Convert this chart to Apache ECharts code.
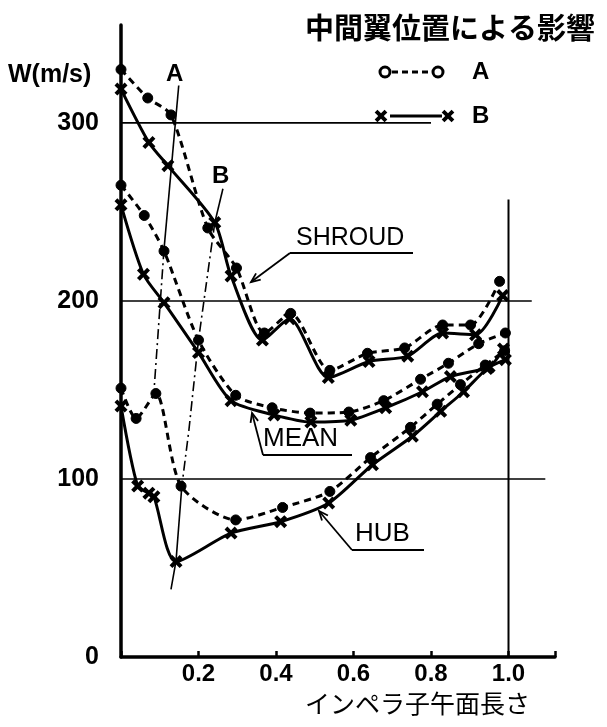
<!DOCTYPE html>
<html>
<head>
<meta charset="utf-8">
<script src="https://cdn.jsdelivr.net/npm/echarts@6/dist/echarts.min.js"></script>
<style>
  html, body { margin: 0; padding: 0; background: #fff; }
  #chart { width: 607px; height: 727px; }
</style>
</head>
<body>
<div id="chart"></div>
<script>
// Relative velocity W along the impeller meridional length,
// for two splitter-blade positions (A, B) at shroud, mean and hub.
const xTicks = [0.2, 0.4, 0.6, 0.8, 1.0];
const yTicks = [0, 100, 200, 300];

const shroudA_x = [0, 0.069, 0.129, 0.224, 0.298, 0.37, 0.438, 0.539, 0.636, 0.732, 0.83, 0.902, 0.977];
const shroudA_y = [330, 314, 304.5, 241, 218.5, 182, 193, 161, 170.6, 173.6, 186.5, 186.5, 211];
const shroudB_x = [0, 0.072, 0.121, 0.242, 0.284, 0.365, 0.435, 0.535, 0.64, 0.74, 0.83, 0.915, 0.985];
const shroudB_y = [319, 289, 276, 244, 214, 178, 190, 157, 166, 169, 182, 181, 203];

const meanA_x = [0, 0.06, 0.111, 0.2, 0.296, 0.39, 0.488, 0.588, 0.678, 0.773, 0.845, 0.923, 0.992];
const meanA_y = [265, 248, 228, 178, 147, 140, 137, 137.6, 144, 156, 165, 176, 182];
const meanB_x = [0, 0.058, 0.111, 0.2, 0.284, 0.395, 0.49, 0.593, 0.683, 0.778, 0.85, 0.95, 0.987];
const meanB_y = [254, 215, 199, 171, 144, 136, 132, 133, 140, 149, 157.5, 163, 173];

const hubA_x = [0, 0.039, 0.09, 0.155, 0.296, 0.417, 0.539, 0.644, 0.747, 0.816, 0.876, 0.94, 0.99];
const hubA_y = [151, 134, 148, 96, 77, 84, 93, 112, 129, 142, 153, 164, 172];
const hubB_x = [0, 0.043, 0.072, 0.085, 0.142, 0.284, 0.412, 0.536, 0.649, 0.752, 0.825, 0.884, 0.945, 0.992];
const hubB_y = [141, 96, 92, 90, 53.6, 69.6, 76, 86.5, 108, 124, 138, 149, 162, 167];

// Leading-edge loci of the splitter blade for positions A and B
const locusA_x = [0.149, 0.111, 0.085];
const locusA_y = [321, 229, 149];
const locusB_x = [0.263, 0.242, 0.2, 0.175, 0.157, 0.142, 0.129];
const locusB_y = [263, 244, 178, 127, 96, 54, 38];

// Reference lines: horizontal levels with their right ends, and the x = 1.0 line
const refLevels = [300, 200, 100];
const refLevelEnds = [0.8, 1.06, 1.095];
const refVertX = 1.0;
const refVertTop = 257;

const pairs = (xs, ys) => xs.map((x, i) => [x, ys[i]]);

const INK = '#000';
// Diagonal cross ("x") with thick arms
const XPTS = [[5.09, -9.05], [9.05, -5.09], [3.96, 0], [9.05, 5.09], [5.09, 9.05], [0, 3.96],
              [-5.09, 9.05], [-9.05, 5.09], [-3.96, 0], [-9.05, -5.09], [-5.09, -9.05], [0, -3.96]];
const STAR = 'path://M' + XPTS.map(p => p.join(',')).join(' L') + ' Z';
const FONT = '"Liberation Sans", Arial, sans-serif';
const CJK = '"Noto Sans CJK JP", sans-serif';

function curveA(name, xs, ys) {
  return {
    name, type: 'line', data: pairs(xs, ys), smooth: 0.25,
    symbol: 'circle', symbolSize: 10,
    itemStyle: { color: INK, borderColor: INK, borderWidth: 1 },
    lineStyle: { color: INK, width: 3, type: [7, 5] },
    z: 5, silent: true, animation: false
  };
}
function curveB(name, xs, ys) {
  return {
    name, type: 'line', data: pairs(xs, ys), smooth: 0.25,
    symbol: STAR, symbolSize: 13,
    itemStyle: { color: INK },
    lineStyle: { color: INK, width: 3, type: 'solid' },
    z: 5, silent: true, animation: false
  };
}
function thin(name, data, type, width) {
  return {
    name, type: 'line', data, symbol: 'none',
    lineStyle: { color: INK, width: width || 1.6, type: type || 'solid' },
    z: 3, silent: true, animation: false
  };
}

const locusA = pairs(locusA_x, locusA_y);
const locusB = pairs(locusB_x, locusB_y);

const series = [
  curveA('SHROUD A', shroudA_x, shroudA_y),
  curveB('SHROUD B', shroudB_x, shroudB_y),
  curveA('MEAN A', meanA_x, meanA_y),
  curveB('MEAN B', meanB_x, meanB_y),
  curveA('HUB A', hubA_x, hubA_y),
  curveB('HUB B', hubB_x, hubB_y),
  thin('locus A top', locusA.slice(0, 2)),
  thin('locus A low', locusA.slice(1), [10, 4, 2, 4]),
  thin('locus B top', locusB.slice(0, 2)),
  thin('locus B mid', locusB.slice(1, 5), [10, 4, 2, 4]),
  thin('locus B low', locusB.slice(4)),
  thin('x = 1.0', [[refVertX, 0], [refVertX, refVertTop]], 'solid', 2)
];
refLevels.forEach((lv, i) => {
  series.push(thin('level ' + lv, [[0, lv], [refLevelEnds[i], lv]], 'solid', 1.6));
});

const chart = echarts.init(document.getElementById('chart'), null, { renderer: 'canvas' });

// Arrow leader: polyline ending in an open arrowhead at the last point
function leader(points) {
  const n = points.length;
  const [x1, y1] = points[n - 2];
  const [x2, y2] = points[n - 1];
  const a = Math.atan2(y2 - y1, x2 - x1);
  const L = 10, w = 0.4;
  const h1 = [x2 - L * Math.cos(a - w), y2 - L * Math.sin(a - w)];
  const h2 = [x2 - L * Math.cos(a + w), y2 - L * Math.sin(a + w)];
  return [
    { type: 'polyline', shape: { points }, style: { stroke: INK, lineWidth: 1.8, fill: null }, z: 20 },
    { type: 'polyline', shape: { points: [h1, [x2, y2], h2] }, style: { stroke: INK, lineWidth: 1.8, fill: null }, z: 20 }
  ];
}
function label(text, x, y, size, weight) {
  return {
    type: 'text', x, y, z: 20,
    style: { text, fill: INK, font: `${weight || 'normal'} ${size}px ${FONT}`, textAlign: 'left', textVerticalAlign: 'bottom' }
  };
}
// Legend marker: the same "x" cross, scaled down
function starShape(cx, cy) {
  const k = 0.7;
  return { type: 'polygon', shape: { points: XPTS.map(([x, y]) => [cx + x * k, cy + y * k]) },
           style: { fill: INK }, z: 20 };
}

const graphic = [
  // title
  { type: 'text', x: 305, y: 13, z: 20,
    style: { text: '中間翼位置による影響', fill: INK, font: `bold 29px ${CJK}`, textVerticalAlign: 'top' } },
  // y-axis name
  { type: 'text', x: 8, y: 63, z: 20,
    style: { text: 'W(m/s)', fill: INK, font: `bold 25px ${FONT}`, textVerticalAlign: 'top' } },
  // x-axis name
  { type: 'text', x: 305, y: 691, z: 20,
    style: { text: 'インペラ子午面長さ', fill: INK, font: `25px ${CJK}`, textVerticalAlign: 'top' } },
  // legend A
  { type: 'circle', shape: { cx: 385, cy: 72, r: 5 }, style: { fill: '#fff', stroke: INK, lineWidth: 3 }, z: 20 },
  { type: 'line', shape: { x1: 392, y1: 72, x2: 431, y2: 72 }, style: { stroke: INK, lineWidth: 3, lineDash: [6, 4] }, z: 20 },
  { type: 'circle', shape: { cx: 438, cy: 72, r: 5 }, style: { fill: '#fff', stroke: INK, lineWidth: 3 }, z: 20 },
  label('A', 472, 84, 24, 'bold'),
  // legend B
  starShape(381, 116),
  { type: 'line', shape: { x1: 390, y1: 116, x2: 442, y2: 116 }, style: { stroke: INK, lineWidth: 3 }, z: 20 },
  starShape(448, 116),
  label('B', 472, 128, 24, 'bold'),
  // locus labels
  label('A', 166, 86, 24, 'bold'),
  label('B', 212, 188, 24, 'bold'),
  // SHROUD annotation
  label('SHROUD', 296, 251, 25),
  { type: 'line', shape: { x1: 290, y1: 253, x2: 413, y2: 253 }, style: { stroke: INK, lineWidth: 2 }, z: 20 },
  ...leader([[290, 253], [251, 282]]),
  // MEAN annotation
  label('MEAN', 263, 452, 26),
  { type: 'line', shape: { x1: 263, y1: 455, x2: 352, y2: 455 }, style: { stroke: INK, lineWidth: 2 }, z: 20 },
  ...leader([[263, 455], [252, 413]]),
  // HUB annotation
  label('HUB', 355, 547, 26),
  { type: 'line', shape: { x1: 352, y1: 550, x2: 424, y2: 550 }, style: { stroke: INK, lineWidth: 2 }, z: 20 },
  ...leader([[352, 550], [319, 511]])
];

chart.setOption({
  animation: false,
  backgroundColor: '#fff',
  grid: { left: 121, right: 52, top: 25, bottom: 70, containLabel: false },
  xAxis: {
    type: 'value', min: 0, max: 1.12, interval: 0.2,
    axisLine: { show: true, onZero: false, lineStyle: { color: INK, width: 3.5 } },
    axisTick: { show: true, inside: true, length: 6, lineStyle: { color: INK, width: 2.5 } },
    axisLabel: {
      margin: 5, color: INK, fontSize: 24, fontWeight: 'bold', fontFamily: FONT,
      formatter: v => (xTicks.some(t => Math.abs(t - v) < 1e-6) ? v.toFixed(1) : '')
    },
    splitLine: { show: false }
  },
  yAxis: {
    type: 'value', min: 0, max: 355, interval: 100,
    axisLine: { show: true, lineStyle: { color: INK, width: 3.5 } },
    axisTick: { show: false },
    axisLabel: {
      margin: 22, color: INK, fontSize: 25, fontWeight: 'bold', fontFamily: FONT,
      formatter: v => (yTicks.includes(v) ? String(v) : '')
    },
    splitLine: { show: false }
  },
  series,
  graphic
});
</script>
</body>
</html>
